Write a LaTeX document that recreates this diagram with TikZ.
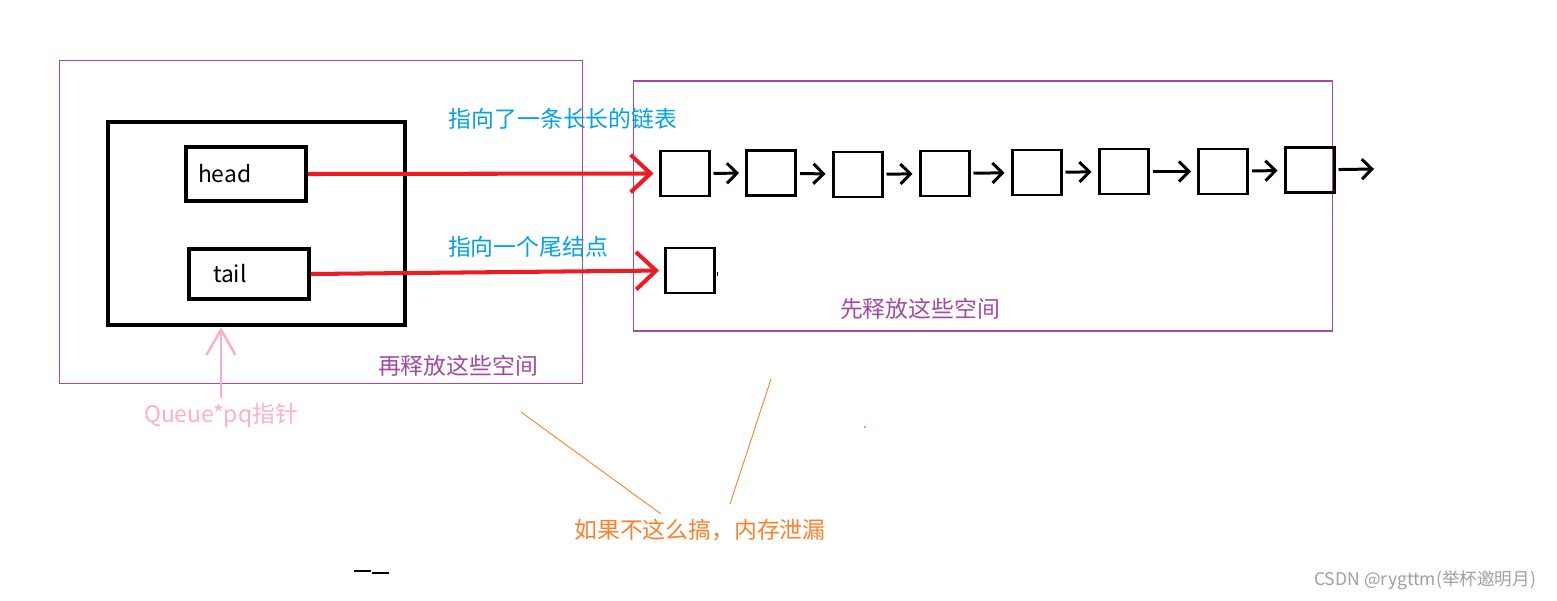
\documentclass[tikz,border=0pt]{standalone}
\usepackage{fontspec}
\setmainfont{Noto Sans CJK SC}
\usetikzlibrary{arrows.meta}

\definecolor{paintred}{RGB}{237,28,36}
\definecolor{paintblue}{RGB}{0,162,232}
\definecolor{paintpurple}{RGB}{163,73,164}
\definecolor{paintpink}{RGB}{255,174,201}
\definecolor{paintorange}{RGB}{255,127,39}
\definecolor{markgray}{RGB}{160,160,160}

\tikzset{
    region/.style={draw=paintpurple, line width=0.6pt, inner sep=0pt},
    queuebox/.style={draw, line width=2.8pt, minimum width=5.94cm, minimum height=4.06cm},
    ptrbox/.style={draw, line width=2.3pt, minimum width=2.4cm, align=left},
    listnode/.style={draw, line width=1.7pt, minimum width=0.98cm, minimum height=0.9cm, inner sep=0pt},
    link/.style={line width=1.7pt, -{Straight Barb[length=0.2cm, width=0.4cm]}, shorten <=0.06cm, shorten >=0.12cm},
    points/.style={paintred, line width=2.3pt, -{Straight Barb[length=0.4cm, width=0.75cm]}, shorten >=0.1cm},
    hint/.style={font=\fontsize{13pt}{15pt}\selectfont},
    leakline/.style={paintorange, line width=0.5pt},
}

\begin{document}
\begin{tikzpicture}[x=0.02cm, y=-0.02cm]
    \useasboundingbox (0,0) rectangle (1557,601);

    % the two spaces to free
    \node[region, minimum width=10.48cm, minimum height=6.48cm] (qspace) at (321,222) {};
    \node[region, minimum width=14cm, minimum height=5cm] (lspace) at (983,206) {};

    % the queue struct
    \node[queuebox] (queue) at (256.5,223.5) {};
    \node[ptrbox, hint, minimum height=1.08cm, text width=1.92cm, inner xsep=0.24cm] (head) at (246,174) {head};
    \node[ptrbox, hint, minimum height=1.0cm, text width=1.44cm, inner xsep=0.48cm] (tail) at (249,274) {tail};

    % the long list
    \node[listnode] (n1) at (684.5,173.5) {};
    \node[listnode] (n2) at (771,173) {};
    \node[listnode] (n3) at (857.5,174.5) {};
    \node[listnode] (n4) at (944.5,173.5) {};
    \node[listnode] (n5) at (1036.5,172.5) {};
    \node[listnode] (n6) at (1123.5,171.5) {};
    \node[listnode] (n7) at (1223,171.5) {};
    \node[listnode] (n8) at (1309.5,170) {};
    \coordinate (more) at (1374,169);
    \node[listnode] (last) at (690,270.5) {};

    \draw[link] (n1) -- (n2);
    \draw[link] (n2) -- (n3);
    \draw[link] (n3) -- (n4);
    \draw[link] (n4) -- (n5);
    \draw[link] (n5) -- (n6);
    \draw[link] (n6) -- (n7);
    \draw[link] (n7) -- (n8);
    \draw[link, shorten >=0pt] (n8) -- (more);

    \draw[points] (head.east) -- (n1.west);
    \draw[points] (tail.east) -- (last.west);
    \draw[line width=0.5pt] (717,272) -- (717,276);

    % labels
    \node[hint, text=paintblue] (longlbl) at (563,119) {指向了一条长长的链表};
    \node[hint, text=paintblue] (taillbl) at (528,247) {指向一个尾结点};
    \node[hint, text=paintpurple] (firstlbl) at (920,309) {先释放这些空间};
    \node[hint, text=paintpurple] (thenlbl) at (458,366) {再释放这些空间};

    \node[hint, text=paintpink] (pq) at (221,416) {Queue*pq指针};
    \draw[paintpink, line width=1.4pt, -{Straight Barb[length=0.5cm, width=0.58cm]}] (pq.north) -- (pq.north |- queue.south);

    \node[hint, text=paintorange] (leak) at (700,530) {如果不这么搞，内存泄漏};
    \coordinate (qend) at (521,412);
    \coordinate (lend) at (771,379);
    \draw[leakline] (661,514) -- (qend);
    \draw[leakline] (730,504) -- (lend);
    \fill[paintorange] (865,427) circle (0.6pt);

    \draw[line width=0.8pt] (354,571) -- (371,571);
    \draw[line width=0.8pt] (372,573) -- (389,573);

    \node[font=\fontsize{10pt}{12pt}\selectfont, text=markgray] (mark) at (1425,580) {CSDN @rygttm(举杯邀明月)};
\end{tikzpicture}
\end{document}
